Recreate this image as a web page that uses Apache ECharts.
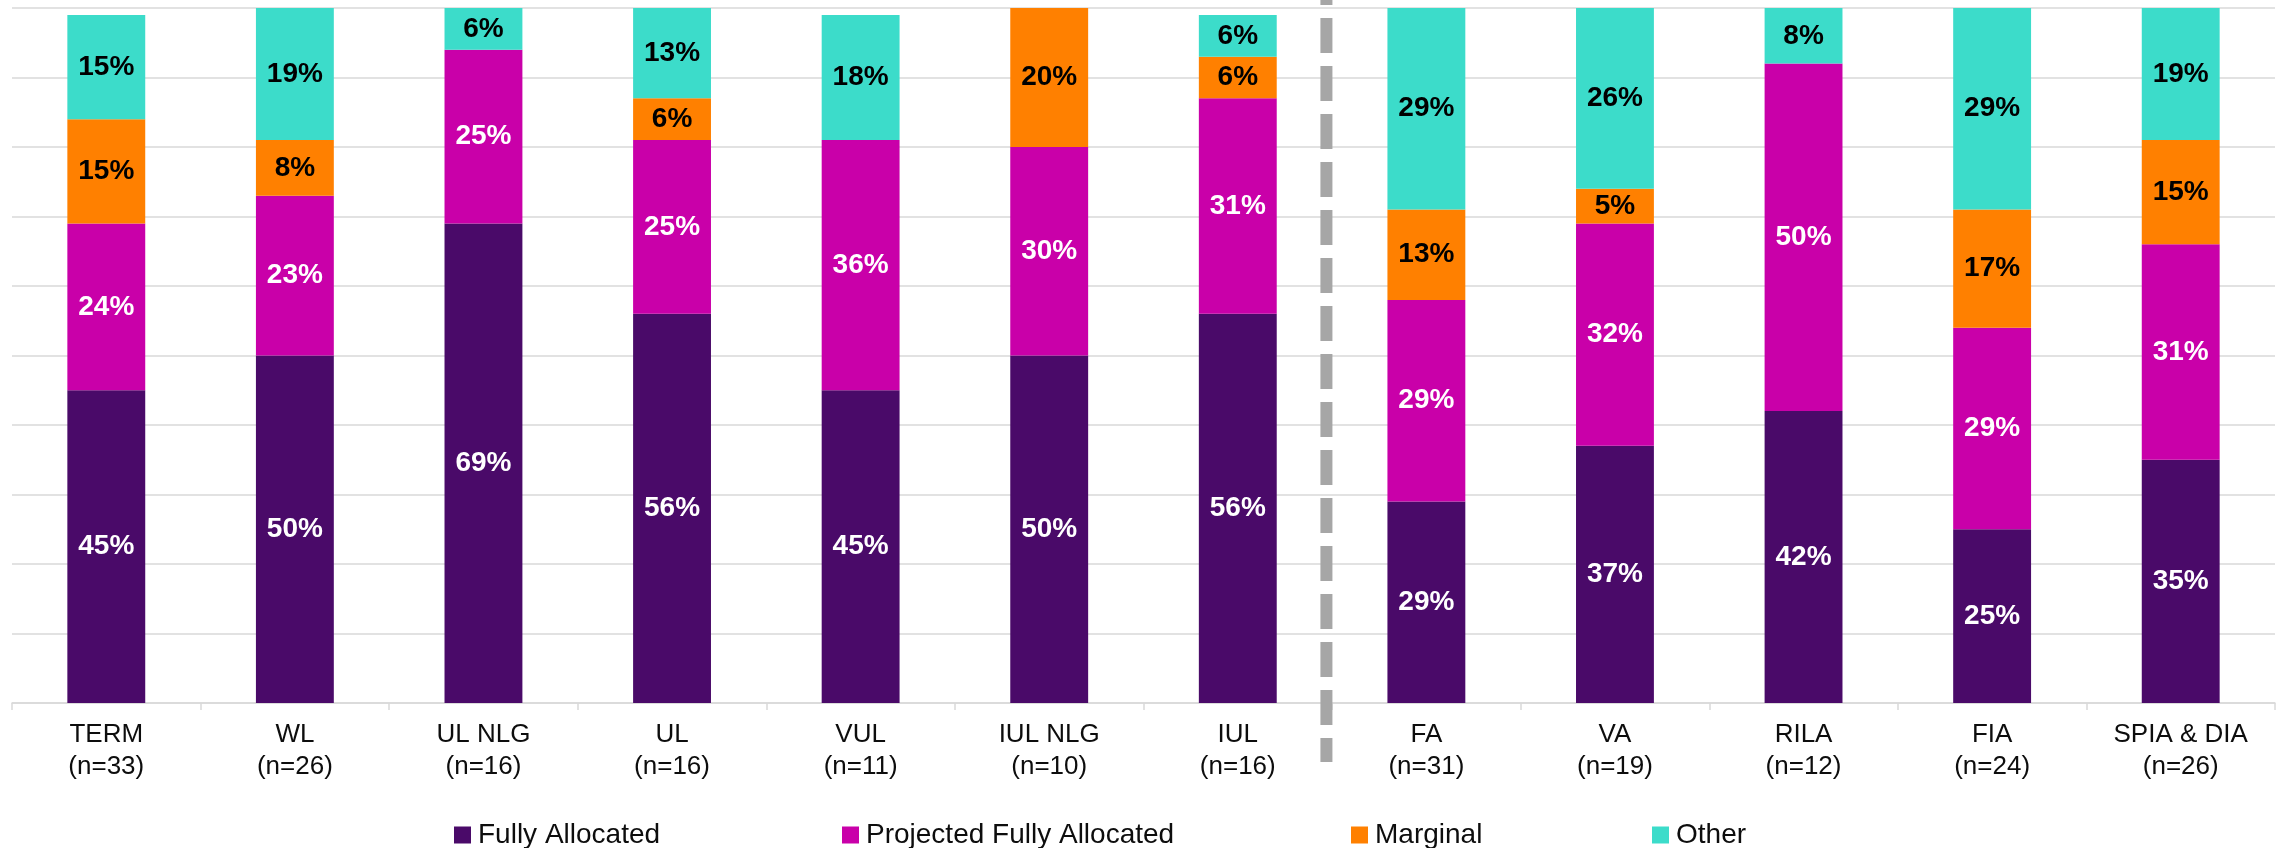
<!DOCTYPE html>
<html>
<head>
<meta charset="utf-8">
<script src="https://cdn.jsdelivr.net/npm/echarts@6/dist/echarts.min.js"></script>
<style>
  html, body { margin: 0; padding: 0; background: #ffffff; }
  #chart { width: 2278px; height: 848px; }
</style>
</head>
<body>
<div id="chart"></div>
<script>
// Product categories with respondent counts
const products = ['TERM', 'WL', 'UL NLG', 'UL', 'VUL', 'IUL NLG', 'IUL', 'FA', 'VA', 'RILA', 'FIA', 'SPIA & DIA'];
const respondents = [33, 26, 16, 16, 11, 10, 16, 31, 19, 12, 24, 26];

// Share of respondents (%) by expense allocation method
const fullyAllocated      = [45, 50, 69, 56, 45, 50, 56, 29, 37, 42, 25, 35];
const projectedFullyAlloc = [24, 23, 25, 25, 36, 30, 31, 29, 32, 50, 29, 31];
const marginal            = [15,  8,  0,  6,  0, 20,  6, 13,  5,  0, 17, 15];
const other               = [15, 19,  6, 13, 18,  0,  6, 29, 26,  8, 29, 19];

const seriesNames = ['Fully Allocated', 'Projected Fully Allocated', 'Marginal', 'Other'];
const seriesColors = ['#4a0a69', '#c900a9', '#ff8000', '#3cdcca'];
const labelColors = ['#ffffff', '#ffffff', '#000000', '#000000'];
const seriesData = [fullyAllocated, projectedFullyAlloc, marginal, other];

// Index of the last life product; the separator sits between it and the annuities
const lastLifeIndex = 6;

const FONT = '"Liberation Sans", Arial, Helvetica, sans-serif';

const categoryLabels = products.map((p, i) => p + '\n(n=' + respondents[i] + ')');

const chart = echarts.init(document.getElementById('chart'), null, { renderer: 'canvas' });

const series = seriesNames.map((name, k) => ({
  name: name,
  type: 'bar',
  stack: 'total',
  barWidth: '41.3%',
  data: seriesData[k],
  itemStyle: { color: seriesColors[k] },
  label: {
    show: true,
    position: 'inside',
    formatter: p => (p.value > 0 ? p.value + '%' : ''),
    color: labelColors[k],
    fontFamily: FONT,
    fontWeight: 'bold',
    fontSize: 28
  },
  emphasis: { disabled: true }
}));

// One legend block per entry so each sits at its own horizontal slot
const legendLefts = [449, 837, 1346, 1647];
const legends = seriesNames.map((name, k) => ({
  data: [name],
  left: legendLefts[k],
  top: 816,
  icon: 'rect',
  itemWidth: 17,
  itemHeight: 17,
  itemGap: 0,
  selectedMode: false,
  textStyle: {
    fontFamily: FONT,
    fontSize: 28,
    lineHeight: 28,
    color: '#0d0d0d',
    padding: [0, 0, 0, 2]
  }
}));

const option = {
  animation: false,
  backgroundColor: '#ffffff',
  color: seriesColors,
  grid: { left: 12, right: 3, top: 8, bottom: 145, containLabel: false },
  legend: legends,
  xAxis: {
    type: 'category',
    data: categoryLabels,
    boundaryGap: true,
    axisLine: { show: true, lineStyle: { color: '#d9d9d9', width: 1.5 } },
    axisTick: { show: true, length: 7, lineStyle: { color: '#d9d9d9', width: 1.5 } },
    axisLabel: {
      interval: 0,
      margin: 16,
      fontFamily: FONT,
      fontSize: 26,
      lineHeight: 32,
      color: '#0d0d0d'
    }
  },
  yAxis: {
    type: 'value',
    min: 0,
    max: 100,
    interval: 10,
    axisLine: { show: false },
    axisTick: { show: false },
    axisLabel: { show: false },
    splitLine: { show: true, lineStyle: { color: '#d9d9d9', width: 1.5 } }
  },
  series: series
};

chart.setOption(option);

// Dashed divider between life products and annuity products
const xLeft = chart.convertToPixel({ xAxisIndex: 0 }, lastLifeIndex);
const xRight = chart.convertToPixel({ xAxisIndex: 0 }, lastLifeIndex + 1);
const xDivider = xLeft + (xRight - xLeft) * 0.47;

chart.setOption({
  graphic: [{
    type: 'line',
    silent: true,
    z: 100,
    shape: { x1: xDivider, y1: -30, x2: xDivider, y2: 762 },
    style: { stroke: '#a6a6a6', lineWidth: 12, lineDash: [35, 13] }
  }]
});
</script>
</body>
</html>
